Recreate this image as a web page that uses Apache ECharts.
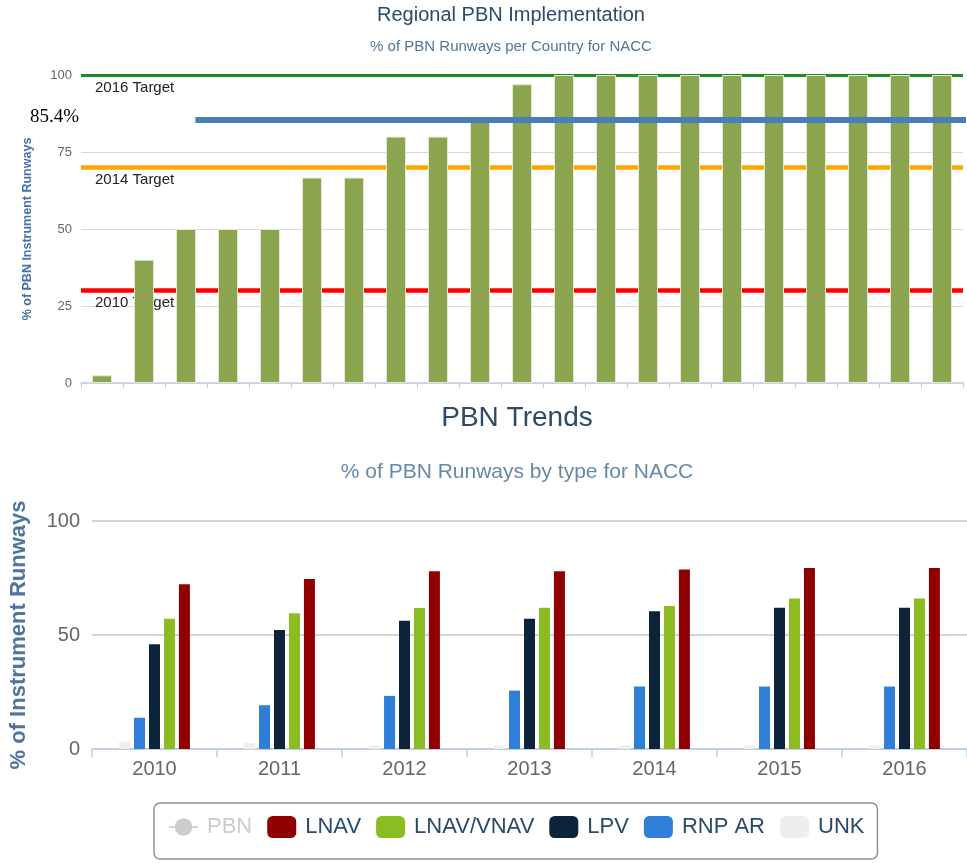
<!DOCTYPE html>
<html>
<head>
<meta charset="utf-8">
<script src="https://cdn.jsdelivr.net/npm/echarts@6/dist/echarts.min.js"></script>
<style>
html,body{margin:0;padding:0;background:#ffffff;}
#chart{width:967px;height:863px;}
</style>
</head>
<body>
<div id="chart"></div>
<script>
// ---------- Top chart data ----------
const countryCategories = ['C01','C02','C03','C04','C05','C06','C07','C08','C09','C10','C11','C12','C13','C14','C15','C16','C17','C18','C19','C20','C21'];
const countryValues = [2.5, 40, 50, 50, 50, 66.7, 66.7, 80, 80, 85.7, 97, 100, 100, 100, 100, 100, 100, 100, 100, 100, 100];
const targetNames = ['2016 Target', '2014 Target', '2010 Target'];
const targetValues = [100, 70, 30];
const regionalValue = 85.4;
const regionalLineSpan = [2.72, 21.1]; // start / end in category units
const topTicks = [0, 25, 50, 75, 100];

// ---------- Bottom chart data ----------
const years = ['2010', '2011', '2012', '2013', '2014', '2015', '2016'];
const unk      = [3.2, 2.6, 1.6, 1.6, 1.6, 1.6, 1.6];
const rnpAr    = [13.7, 19.2, 23.3, 25.6, 27.4, 27.4, 27.4];
const lpv      = [45.9, 52.2, 56.3, 57.1, 60.4, 61.9, 61.9];
const lnavVnav = [57.1, 59.5, 61.8, 61.9, 62.7, 66.0, 66.0];
const lnav     = [72.3, 74.6, 78.0, 78.0, 78.7, 79.4, 79.4];
const pbn      = [null, null, null, null, null, null, null]; // hidden series, values not shown
const bottomTicks = [0, 50, 100];

const targetColors = ['#1f8c1f', '#ffa500', '#ff0000'];
const targetWidths = [3, 4.5, 4.5];

const chart = echarts.init(document.getElementById('chart'), null, {renderer: 'canvas'});

const option = {
  animation: false,
  textStyle: {fontFamily: 'Liberation Sans, Arial, sans-serif'},
  title: [
    {text: 'Regional PBN Implementation', left: 511, top: 5, textAlign: 'center', padding: 0,
     textStyle: {fontSize: 20, fontWeight: 'normal', color: '#274b6d'}},
    {text: '% of PBN Runways per Country for NACC', left: 511, top: 39, textAlign: 'center', padding: 0,
     textStyle: {fontSize: 15, fontWeight: 'normal', color: '#4d759e'}},
    {text: 'PBN Trends', left: 517, top: 404, textAlign: 'center', padding: 0,
     textStyle: {fontSize: 28, fontWeight: 'normal', color: '#2e4a66'}},
    {text: '% of PBN Runways by type for NACC', left: 517, top: 462, textAlign: 'center', padding: 0,
     textStyle: {fontSize: 21, fontWeight: 'normal', color: '#6688aa'}}
  ],
  legend: {
    data: [
      {name: 'PBN'},
      {name: 'LNAV', icon: 'roundRect'},
      {name: 'LNAV/VNAV', icon: 'roundRect'},
      {name: 'LPV', icon: 'roundRect'},
      {name: 'RNP AR', icon: 'roundRect'},
      {name: 'UNK', icon: 'roundRect'}
    ],
    selected: {'PBN': false},
    left: 154, top: 803,
    padding: [13, 13, 21, 14],
    borderColor: '#909090', borderWidth: 1.5, borderRadius: 6,
    itemWidth: 29, itemHeight: 22, itemGap: 15,
    inactiveColor: '#cccccc',
    textStyle: {fontSize: 22, color: '#274b6d', padding: [0, 0, 0, 4]}
  },
  graphic: [
    {type: 'text', left: 30, top: 108, z: 20,
     style: {text: regionalValue + '%', font: '19px "Liberation Serif", "Times New Roman", serif', fill: '#000'}}
  ],
  grid: [
    {left: 81, top: 75, width: 882, height: 308},
    {left: 92, top: 521, width: 881, height: 228}
  ],
  xAxis: [
    {type: 'category', gridIndex: 0, data: countryCategories,
     axisLine: {lineStyle: {color: '#c0d0e0', width: 1.5}},
     axisTick: {show: true, length: 5, lineStyle: {color: '#c0d0e0'}},
     axisLabel: {show: false}},
    {type: 'category', gridIndex: 1, data: years,
     axisLine: {lineStyle: {color: '#c0d0e0', width: 2}},
     axisTick: {show: true, length: 8, lineStyle: {color: '#c0d0e0', width: 1.5}},
     axisLabel: {fontSize: 20, color: '#666666', margin: 10}},
    {type: 'value', gridIndex: 0, min: 0, max: 21, show: false}
  ],
  yAxis: [
    {type: 'value', gridIndex: 0, min: topTicks[0], max: topTicks[topTicks.length - 1], interval: 25,
     name: '% of PBN Instrument Runways', nameLocation: 'middle', nameGap: 47,
     nameTextStyle: {fontSize: 12.5, fontWeight: 'bold', color: '#4572a7'},
     axisLine: {show: false}, axisTick: {show: false},
     axisLabel: {fontSize: 13, color: '#666666', margin: 9},
     splitLine: {lineStyle: {color: '#d8d8d8', width: 1}}},
    {type: 'value', gridIndex: 1, min: bottomTicks[0], max: bottomTicks[bottomTicks.length - 1], interval: 50,
     name: '% of Instrument Runways', nameLocation: 'middle', nameGap: 62,
     nameTextStyle: {fontSize: 22, fontWeight: 'bold', color: '#4d759e'},
     axisLine: {show: false}, axisTick: {show: false},
     axisLabel: {fontSize: 20, color: '#666666', margin: 12},
     splitLine: {lineStyle: {color: '#d4d4d4', width: 2}}}
  ],
  series: [
    {
      name: 'Targets', type: 'line', xAxisIndex: 2, yAxisIndex: 0, data: [], z: 1,
      markLine: {
        z: 1, zlevel: 0, silent: true, symbol: 'none', animation: false,
        label: {show: true, position: 'insideStartBottom', fontSize: 15, color: '#222222', distance: [14, 5]},
        data: targetValues.map((v, i) => ({
          yAxis: v,
          label: {formatter: targetNames[i]},
          lineStyle: {color: targetColors[i], width: targetWidths[i], type: 'solid'}
        }))
      }
    },
    {
      name: 'Countries', type: 'bar', xAxisIndex: 0, yAxisIndex: 0,
      data: countryValues, barWidth: 20, z: 10, zlevel: 1,
      itemStyle: {color: '#8ba54f', borderColor: '#e3ead2', borderWidth: 1}
    },
    {
      name: 'Regional', type: 'line', xAxisIndex: 2, yAxisIndex: 0,
      data: regionalLineSpan.map(x => [x, regionalValue]),
      symbol: 'none', clip: false, z: 12, zlevel: 2,
      lineStyle: {color: '#4a7ebb', width: 6}
    },
    {name: 'UNK', type: 'bar', xAxisIndex: 1, yAxisIndex: 1, data: unk, barWidth: 11, barGap: '36%', itemStyle: {color: '#eeeeee'}},
    {name: 'RNP AR', type: 'bar', xAxisIndex: 1, yAxisIndex: 1, data: rnpAr, barWidth: 11, barGap: '36%', itemStyle: {color: '#2f7ed8'}},
    {name: 'LPV', type: 'bar', xAxisIndex: 1, yAxisIndex: 1, data: lpv, barWidth: 11, barGap: '36%', itemStyle: {color: '#0d233a'}},
    {name: 'LNAV/VNAV', type: 'bar', xAxisIndex: 1, yAxisIndex: 1, data: lnavVnav, barWidth: 11, barGap: '36%', itemStyle: {color: '#8bbc21'}},
    {name: 'LNAV', type: 'bar', xAxisIndex: 1, yAxisIndex: 1, data: lnav, barWidth: 11, barGap: '36%', itemStyle: {color: '#910000'}},
    {name: 'PBN', type: 'line', xAxisIndex: 1, yAxisIndex: 1, data: pbn, symbol: 'circle', symbolSize: 10,
     itemStyle: {color: '#cccccc'}, lineStyle: {color: '#cccccc', width: 3}}
  ]
};

chart.setOption(option);
</script>
</body>
</html>
